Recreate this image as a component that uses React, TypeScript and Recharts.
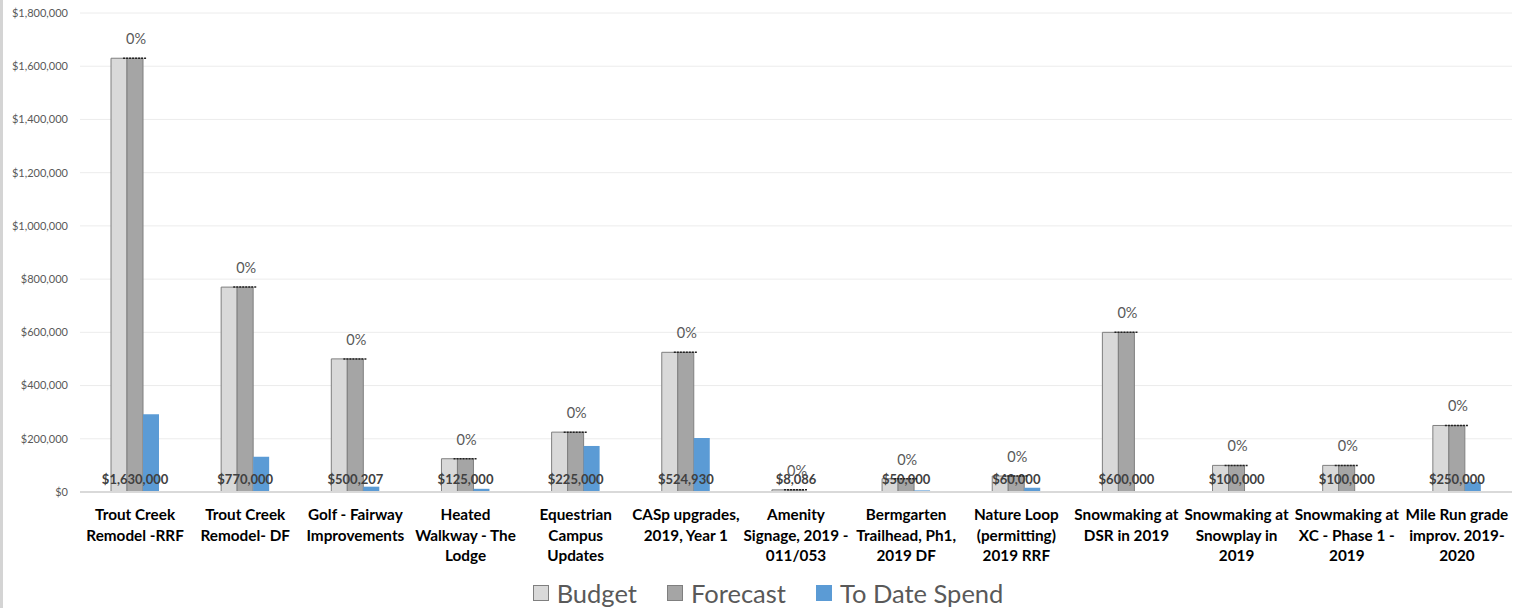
import React from 'react';
import { ComposedChart, Bar, Line, XAxis, YAxis, CartesianGrid, Legend, LabelList } from 'recharts';

const FONT = 'Lato, "Open Sans", sans-serif';

const categories = [
  'Trout Creek\nRemodel -RRF',
  'Trout Creek\nRemodel- DF',
  'Golf - Fairway\nImprovements',
  'Heated\nWalkway - The\nLodge',
  'Equestrian\nCampus\nUpdates',
  'CASp upgrades,\n2019, Year 1',
  'Amenity\nSignage, 2019 -\n011/053',
  'Bermgarten\nTrailhead, Ph1,\n2019 DF',
  'Nature Loop\n(permitting)\n2019 RRF',
  'Snowmaking at\nDSR in 2019',
  'Snowmaking at\nSnowplay in\n2019',
  'Snowmaking at\nXC - Phase 1 -\n2019',
  'Mile Run grade\nimprov. 2019-\n2020',
];
const budget = [1630000, 770000, 500207, 125000, 225000, 524930, 8086, 50000, 60000, 600000, 100000, 100000, 250000];
const forecast = [1630000, 770000, 500207, 125000, 225000, 524930, 8086, 50000, 60000, 600000, 100000, 100000, 250000];
const spend = [292000, 132000, 20000, 12000, 173000, 203000, 0, 6000, 16000, 0, 0, 0, 38000];
const pctSpent = ['0%', '0%', '0%', '0%', '0%', '0%', '0%', '0%', '0%', '0%', '0%', '0%', '0%'];
const yTicks = [0, 200000, 400000, 600000, 800000, 1000000, 1200000, 1400000, 1600000, 1800000];
const seriesNames = ['Budget', 'Forecast', 'To Date Spend'];

const data = categories.map((name, i) => ({ name, budget: budget[i], forecast: forecast[i], spend: spend[i] }));

const money = (v: number) => '$' + v.toLocaleString('en-US');

const XTick = (props: any) => {
  const { x, y, payload } = props;
  const lines = String(payload.value).split('\n');
  return (
    <text x={x} y={y} textAnchor="middle" fontFamily={FONT} fontWeight={700} fontSize={15.3} fill="#000">
      {lines.map((l, i) => (
        <tspan key={i} x={x} dy={i === 0 ? 20 : 20.5}>{l}</tspan>
      ))}
    </text>
  );
};

const TopLabel = (props: any) => {
  const { x, y, index } = props;
  return (
    <g>
      <line x1={x - 12} x2={x + 11} y1={y} y2={y} stroke="#222" strokeWidth={1.5} strokeDasharray="2 1" />
      <text x={x + 1} y={y - 14} textAnchor="middle" fontFamily={FONT} fontSize={14.5} fill="#595959">{pctSpent[index]}</text>
    </g>
  );
};

const BottomLabel = (props: any) => {
  const { x, y, index } = props;
  return (
    <text x={x} y={y - 8} textAnchor="middle" fontFamily={FONT} fontWeight={700} fontSize={13} fill="#404040">{money(budget[index])}</text>
  );
};

const legendStyles = [
  { background: '#d9d9d9', border: '1px solid #7f7f7f' },
  { background: '#a5a5a5', border: '1px solid #7f7f7f' },
  { background: '#5b9bd5', border: '1px solid #5b9bd5' },
];

const renderLegend = () => (
  <div style={{ display: 'flex', justifyContent: 'center', alignItems: 'center', height: 30, paddingLeft: 24, fontFamily: FONT, fontSize: 25.5, color: '#595959' }}>
    {seriesNames.map((n, i) => (
      <div key={n} style={{ display: 'flex', alignItems: 'center', marginRight: i < 2 ? 30 : 0 }}>
        <div style={{ width: 14, height: 14, marginRight: 8, ...legendStyles[i] }} />
        <span>{n}</span>
      </div>
    ))}
  </div>
);

export default function App() {
  return (
    <div style={{ position: 'absolute', left: 0, top: 0, width: 1513, height: 608, background: '#fff' }}>
      <div style={{ position: 'absolute', left: 0, top: 0, width: 3, height: 608, background: '#d4d4d4' }} />
      <ComposedChart width={1513} height={608} data={data} margin={{ top: 13, right: 1, left: 0, bottom: 0 }} barGap={0} barSize={16}>
        <CartesianGrid vertical={false} stroke="#ececec" />
        <XAxis dataKey="name" height={86} tick={<XTick />} tickLine={false} axisLine={{ stroke: '#d9d9d9', strokeWidth: 2 }} interval={0} />
        <YAxis width={80} domain={[0, 1800000]} ticks={yTicks} tickFormatter={money} tick={{ fill: '#595959', fontSize: 11, fontFamily: FONT }} axisLine={false} tickLine={false} tickMargin={6} />
        <Legend content={renderLegend} verticalAlign="bottom" height={30} />
        <Bar dataKey="budget" name="Budget" fill="#d9d9d9" stroke="#7f7f7f" strokeWidth={1} isAnimationActive={false} />
        <Bar dataKey="forecast" name="Forecast" fill="#a5a5a5" stroke="#7f7f7f" strokeWidth={1} isAnimationActive={false} />
        <Bar dataKey="spend" name="To Date Spend" fill="#5b9bd5" isAnimationActive={false} />
        <Line dataKey={() => 0} stroke="none" dot={false} activeDot={false} legendType="none" isAnimationActive={false}>
          <LabelList content={<BottomLabel />} />
        </Line>
        <Line dataKey="forecast" stroke="none" dot={false} activeDot={false} legendType="none" isAnimationActive={false}>
          <LabelList content={<TopLabel />} />
        </Line>
      </ComposedChart>
    </div>
  );
}
